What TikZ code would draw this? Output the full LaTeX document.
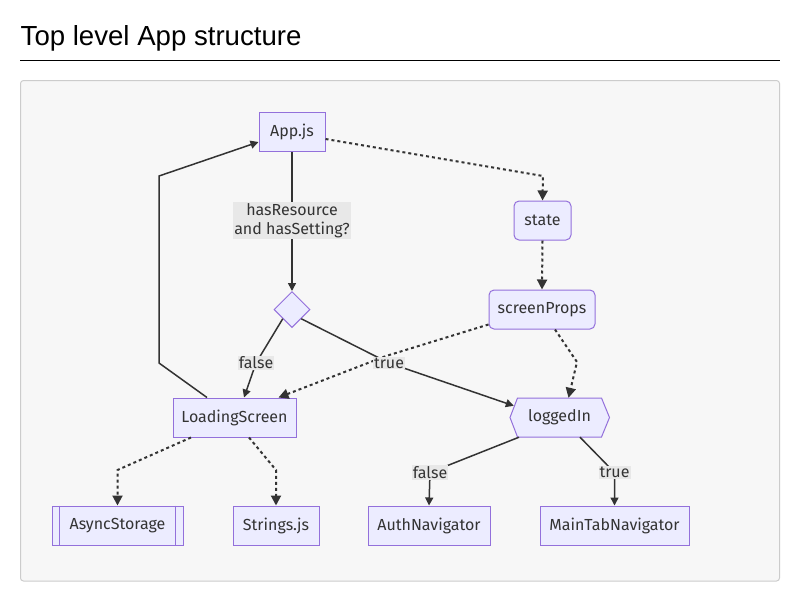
\documentclass[tikz,border=0pt]{standalone}
\usepackage{fontspec}
\setmainfont{Fira Sans}
\newfontfamily\titlefont{Liberation Sans}
\usetikzlibrary{arrows.meta,shapes.geometric}
\definecolor{nodefill}{HTML}{ECECFF}
\definecolor{nodeline}{HTML}{9370DB}
\definecolor{edgecol}{HTML}{333333}
\definecolor{lblbg}{HTML}{E8E8E8}
\definecolor{panel}{HTML}{F7F7F7}
\definecolor{panelline}{HTML}{CCCCCC}
\begin{document}
\begin{tikzpicture}[x=1pt,y=-1pt,
  nodefont/.style={font=\fontsize{16}{19}\selectfont, text=edgecol},
  box/.style={nodefont, draw=nodeline, fill=nodefill, line width=1pt, minimum height=39pt, inner sep=0pt},
  rbox/.style={box, rounded corners=5pt},
  diabox/.style={draw=nodeline, fill=nodefill, line width=1pt, diamond, minimum width=36pt, minimum height=36pt, inner sep=0pt},
  hexbox/.style={draw=nodeline, fill=nodefill, line width=1pt, line join=miter},
  lbl/.style={nodefont, fill=lblbg, inner xsep=1pt, inner ysep=1pt, align=center},
  solidedge/.style={draw=edgecol, line width=1.5pt, -{Triangle[length=8pt,width=8pt]}},
  dotedge/.style={draw=edgecol, line width=2pt, dash pattern=on 3pt off 3pt, -{Triangle[length=10pt,width=10pt]}},
]
\useasboundingbox (0,0) rectangle (800,600);
\fill[white] (0,0) rectangle (800,600);
% title
\node[anchor=base west, inner sep=0pt, font=\titlefont\fontsize{27.6}{30}\selectfont] (title) at (20.5,45) {Top level App structure};
\draw[line width=1pt] (20,60) -- (780,60);
% panel
\draw[fill=panel, draw=panelline, line width=1pt, rounded corners=3pt] (20.5,80.5) rectangle (779.5,581);

% nodes
\node[box, minimum width=66pt] (app) at (292,132) {App.js};
\node[rbox, minimum width=57pt] (state) at (542.5,220.5) {state};
\node[rbox, minimum width=106pt] (sp) at (542,309.5) {screenProps};
\node[diabox] (dia) at (292,309.5) {};
\node[box, minimum width=123pt] (ls) at (234.5,417.5) {LoadingScreen};
\coordinate (lgC) at (559.5,417.5);
\draw[hexbox] (lgC) ++(-49.5,0) -- ++(7.5,-19.5) -- ++(84,0) -- ++(8,19.5) -- ++(-8,19.5) -- ++(-84,0) -- cycle;
\node[nodefont, minimum width=99pt, minimum height=39pt, inner sep=0pt] (logged) at (lgC) {loggedIn};
\node[box, minimum width=131pt] (as) at (117.5,525.5) {AsyncStorage};
\draw[draw=nodeline, line width=1pt] ([xshift=8pt]as.north west) -- ([xshift=8pt]as.south west)
  ([xshift=-8pt]as.north east) -- ([xshift=-8pt]as.south east);
\node[box, minimum width=86pt] (str) at (276,525.5) {Strings.js};
\node[box, minimum width=122pt] (auth) at (429,525.5) {AuthNavigator};
\node[box, minimum width=149pt] (main) at (614.5,525.5) {MainTabNavigator};

% bend points
\coordinate (b1) at (159,363);
\coordinate (b2) at (159,176);
\coordinate (b3) at (543,176);
\coordinate (b4) at (577,362);
\coordinate (b5) at (117.5,470);
\coordinate (b6) at (276,470);
\coordinate (b7) at (386,356);

% edges
\draw[solidedge] (app.south) -- (dia.north);
\draw[solidedge] ([xshift=-27.5pt]ls.north) -- (b1) -- (b2) -- ([yshift=-10pt]app.west);
\draw[dotedge] ([yshift=-7pt]app.east) -- (b3) -- (state.north);
\draw[dotedge] (state.south) -- (sp.north);
\draw[dotedge] ([yshift=-15pt]sp.west) -- (b7) -- ([xshift=44pt]ls.north);
\draw[dotedge] ([xshift=13pt]sp.south) -- (b4) -- ([xshift=9pt]logged.north);
\draw[dotedge] ([xshift=-43.5pt]ls.south) -- (b5) -- (as.north);
\draw[dotedge] ([xshift=14.5pt]ls.south) -- (b6) -- (str.north);

\node[lbl] (lq) at (292,220.5) {hasResource\\and hasSetting?};
\draw[solidedge] (dia.south west) -- (256,363) node[lbl] (lf1) {false} -- ([xshift=9.5pt]ls.north);
\draw[solidedge] (dia.south east) -- (389,363) node[lbl] (lt1) {true} -- ([xshift=4pt,yshift=-8pt]logged.north west);
\draw[solidedge] ([xshift=-40.5pt]logged.south) -- (430,472.5) node[lbl] (lf2) {false} -- (auth.north);
\draw[solidedge] ([xshift=20.5pt]logged.south) -- (614.5,472.5) node[lbl] (lt2) {true} -- (main.north);
\end{tikzpicture}
\end{document}
